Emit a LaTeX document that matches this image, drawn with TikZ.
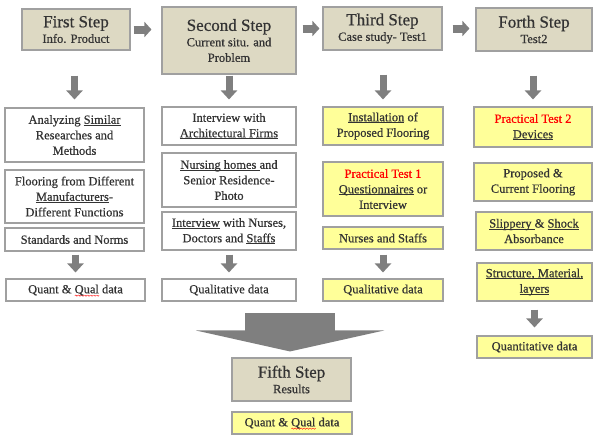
\documentclass[tikz,border=0pt]{standalone}
\usepackage{fontspec}
\setmainfont{Liberation Serif}[FakeBold=0.6]
\usetikzlibrary{arrows.meta}
\definecolor{tan}{HTML}{DDD9C3}
\definecolor{yel}{HTML}{FFFF99}
\definecolor{bord}{HTML}{A0A0A0}
\definecolor{arr}{HTML}{7F7F7F}
\definecolor{txt}{HTML}{333333}
\newcommand\ul[1]{\setbox0\hbox{#1}\rlap{\rule[-1.6pt]{\wd0}{0.6pt}}\box0{}}
\newcommand\squig[1]{\setbox0\hbox{#1}\rlap{\raisebox{-3.2pt}[0pt][0pt]{\tikz[x=1pt,y=1pt]\draw[red,line width=0.45pt] plot[domain=0:\the\wd0,samples=25,smooth] (\x,{0.7*sin(\x*120)});}}\box0{}}
\newcommand\ttl[1]{{\fontsize{17}{19}\selectfont #1}}
\begin{document}
\begin{tikzpicture}[x=1pt,y=-1pt,
  box/.style={draw=bord,line width=1.1pt,align=center,inner sep=0pt,text=txt,
    font=\fontsize{12.5}{15.5}\selectfont},
  head/.style={box,fill=tan},
  wbox/.style={box,fill=white},
  ybox/.style={box,fill=yel},
  darrow/.style={arr,line width=7pt,-{Triangle[width=16pt,length=9pt]}},
  harrow/.style={arr,line width=8pt,-{Triangle[width=15pt,length=7pt]}},
  bigarrow/.style={arr,line width=90pt,-{Triangle[width=188pt,length=21pt]}}]
\useasboundingbox (0,0) rectangle (593,437);
% headers
\node[head,minimum width=108pt,minimum height=41pt] (h1) at (76,29.5) {\ttl{First Step}\\Info. Product};
\node[head,minimum width=134pt,minimum height=67pt] (h2) at (229,40.5) {\ttl{Second Step}\\Current situ. and\\Problem};
\node[head,minimum width=119pt,minimum height=43pt] (h3) at (382.5,28.5) {\ttl{Third Step}\\Case study- Test1};
\node[head,minimum width=116pt,minimum height=43pt] (h4) at (534,29.5) {\ttl{Forth Step}\\Test2};
% column 1
\node[wbox,minimum width=139pt,minimum height=54pt] (b11) at (74.5,135) {Analyzing \ul{Similar}\\Researches and\\Methods};
\node[wbox,minimum width=139pt,minimum height=53pt] (b12) at (74.5,196.5) {Flooring from Different\\\ul{Manufacturers}-\\Different Functions};
\node[wbox,minimum width=139pt,minimum height=23pt] (b13) at (74.5,239.5) {Standards and Norms};
\node[wbox,minimum width=139pt,minimum height=22pt] (b14) at (75.5,290) {Quant \& \squig{Qual} data};
% column 2
\node[wbox,minimum width=134pt,minimum height=38pt] (b21) at (229,126) {Interview with\\\ul{Architectural Firms}};
\node[wbox,minimum width=134pt,minimum height=54pt] (b22) at (229,180) {\ul{Nursing homes }and\\Senior Residence-\\Photo};
\node[wbox,minimum width=134pt,minimum height=38pt] (b23) at (229,231) {\ul{Interview} with Nurses,\\Doctors and \ul{Staffs}};
\node[wbox,minimum width=134pt,minimum height=22pt] (b24) at (229,290) {Qualitative data};
% column 3
\node[ybox,minimum width=120pt,minimum height=38pt] (b31) at (383,126) {\ul{Installation} of\\Proposed Flooring};
\node[ybox,minimum width=120pt,minimum height=54pt] (b32) at (383,189) {\textcolor{red}{Practical Test 1}\\\ul{Questionnaires} or\\Interview};
\node[ybox,minimum width=120pt,minimum height=22pt] (b33) at (383,238) {Nurses and Staffs};
\node[ybox,minimum width=120pt,minimum height=22pt] (b34) at (383,290) {Qualitative data};
% column 4
\node[ybox,minimum width=118pt,minimum height=40pt] (b41) at (533,127) {\textcolor{red}{Practical Test 2}\\\ul{Devices}};
\node[ybox,minimum width=118pt,minimum height=38pt] (b42) at (533,182) {Proposed \&\\Current Flooring};
\node[ybox,minimum width=116pt,minimum height=38pt] (b43) at (534,231) {\ul{Slippery }\& \ul{Shock}\\Absorbance};
\node[ybox,minimum width=115pt,minimum height=38pt] (b44) at (534.5,282) {\ul{Structure, Material,}\\\ul{layers}};
\node[ybox,minimum width=115pt,minimum height=22pt] (b45) at (534.5,347) {Quantitative data};
% fifth step
\node[head,minimum width=119pt,minimum height=43pt] (h5) at (291.5,379.5) {\ttl{Fifth Step}\\Results};
\node[ybox,minimum width=120pt,minimum height=22pt] (b51) at (292,423) {Quant \& \squig{Qual} data};
% horizontal arrows
\draw[harrow,shorten <=3pt,shorten >=10pt] (h1.east) -- (h1.east -| h2.west);
\draw[harrow,shorten <=6pt,shorten >=3pt] (h3.west -| h2.east) -- (h3.west);
\draw[harrow,shorten <=10pt,shorten >=6pt] (h3.east) -- (h3.east -| h4.west);
% down arrows
\draw[darrow,shorten <=25pt,shorten >=8pt] (h1.south -| b11.north) -- (b11.north);
\draw[darrow,shorten <=1pt,shorten >=7pt] (h2.south) -- (b21.north);
\draw[darrow,shorten <=24pt,shorten >=7pt] (h3.south -| b31.north) -- (b31.north);
\draw[darrow,shorten <=24pt,shorten >=7pt] (h4.south -| b41.north) -- (b41.north);
\draw[darrow,shorten <=3pt,shorten >=6pt] (b13.south -| b14.north) -- (b14.north);
\draw[darrow,shorten <=4pt,shorten >=6pt] (b23.south) -- (b24.north);
\draw[darrow,shorten <=5pt,shorten >=6pt] (b33.south) -- (b34.north);
\draw[darrow,shorten <=8pt,shorten >=8pt] (b44.south) -- (b45.north);
% big arrow
\coordinate (bigtop) at (290,313);
\draw[bigarrow,shorten >=6pt] (bigtop) -- (bigtop |- h5.north);
\end{tikzpicture}
\end{document}
